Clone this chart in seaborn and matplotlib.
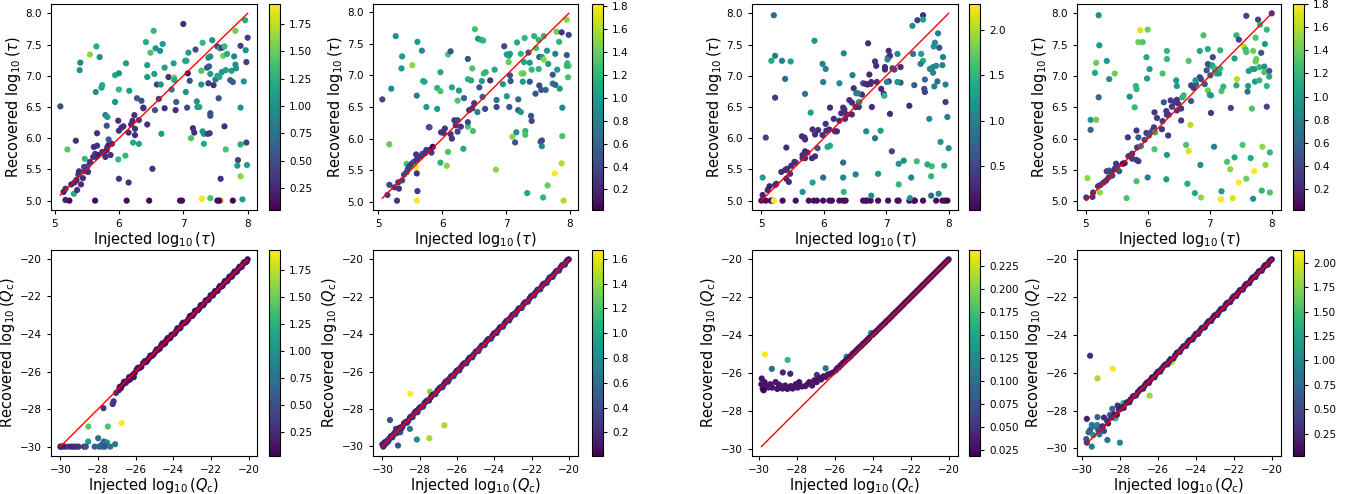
import numpy as np
import pandas as pd
import seaborn as sns
import matplotlib
matplotlib.use("Agg")
import matplotlib.pyplot as plt
from matplotlib.colors import Normalize

# (injected, recovered, colour value), one list per panel
tau_a = [
    (5.09, 6.51, 0.5), (5.20, 5.82, 1.45), (5.55, 7.34, 1.6), (5.65, 7.47, 1.2), (5.40, 7.21, 0.9),
    (5.39, 7.09, 1.0), (5.70, 7.30, 1.0), (5.64, 6.74, 1.0), (5.73, 6.81, 1.1), (5.74, 6.85, 1.2),
    (5.94, 7.01, 1.2), (6.00, 7.04, 1.0), (6.11, 7.20, 1.1), (6.00, 6.78, 1.3), (5.94, 6.58, 1.0),
    (6.16, 6.76, 1.1), (5.79, 6.37, 0.8), (5.82, 6.34, 1.1), (5.81, 6.20, 0.5), (6.28, 6.64, 0.6),
    (6.38, 6.49, 0.5), (6.35, 6.60, 0.5), (6.42, 7.54, 1.2), (6.49, 7.37, 1.4), (6.54, 7.72, 1.3),
    (6.44, 7.17, 1.1), (6.44, 6.98, 1.1), (6.55, 7.03, 1.1), (6.57, 7.44, 1.0), (6.64, 7.40, 1.0),
    (6.68, 7.51, 1.1), (6.71, 7.13, 1.1), (6.59, 6.86, 0.4), (6.65, 6.86, 1.0), (6.62, 6.63, 0.4),
    (6.56, 6.45, 0.5), (6.71, 6.48, 0.3), (6.77, 6.98, 0.3), (6.85, 7.20, 1.1), (6.86, 6.97, 1.5),
    (6.86, 6.93, 1.2), (6.82, 6.78, 0.8), (6.89, 6.58, 0.6), (6.88, 6.45, 0.3), (7.00, 7.83, 0.3),
    (7.03, 7.24, 1.1), (7.05, 7.24, 1.2), (7.08, 7.37, 1.1), (7.07, 7.04, 0.2), (7.10, 6.92, 0.5),
    (7.04, 6.74, 1.0), (7.06, 6.49, 0.5), (7.12, 6.00, 1.4), (7.15, 6.16, 0.3), (7.17, 6.09, 0.3),
    (7.19, 7.42, 0.5), (7.21, 6.59, 1.0), (7.22, 6.50, 1.0), (7.25, 6.50, 1.2), (7.30, 7.53, 1.3),
    (7.28, 7.08, 1.4), (7.28, 6.86, 1.0), (7.30, 6.11, 1.1), (7.32, 6.07, 1.0), (7.32, 5.91, 1.2),
    (7.37, 7.13, 0.5), (7.40, 7.15, 0.6), (7.39, 7.29, 1.0), (7.42, 7.31, 1.0), (7.45, 7.57, 1.0),
    (7.39, 6.88, 0.4), (7.42, 7.03, 1.1), (7.38, 6.07, 0.4), (7.41, 6.08, 0.4), (7.42, 6.40, 0.5),
    (7.42, 6.36, 0.5), (7.47, 6.85, 0.3), (7.50, 6.94, 0.8), (7.53, 7.00, 1.2), (7.53, 7.47, 0.4),
    (7.57, 7.44, 1.2), (7.60, 7.45, 0.4), (7.55, 6.64, 0.5), (7.56, 6.98, 1.2), (7.60, 7.06, 1.0),
    (7.62, 7.32, 1.5), (7.68, 7.35, 1.2), (7.64, 7.47, 1.3), (7.58, 5.35, 0.3), (7.64, 6.19, 0.3),
    (7.66, 5.82, 1.4), (7.66, 7.09, 1.1), (7.73, 6.93, 0.6), (7.75, 7.08, 1.1), (7.77, 6.90, 0.6),
    (7.79, 7.31, 0.9), (7.81, 7.72, 1.5), (7.81, 7.18, 1.0), (7.82, 7.12, 1.0), (7.85, 5.65, 0.4),
    (7.84, 5.56, 1.1), (7.89, 7.48, 0.4), (7.89, 6.49, 1.0), (7.89, 5.90, 1.2), (7.89, 5.39, 1.6),
    (7.94, 6.91, 1.0), (7.96, 7.89, 1.2), (7.97, 7.41, 1.0), (7.98, 7.22, 0.4), (8.00, 7.61, 0.4),
    (7.98, 5.93, 0.4), (7.99, 5.57, 1.1), (7.92, 5.02, 1.1), (7.77, 5.00, 0.05), (7.59, 5.00, 1.93),
    (7.56, 5.00, 0.05), (7.53, 5.00, 0.1), (7.42, 5.04, 1.4), (7.29, 5.03, 1.9), (6.98, 5.00, 0.1),
    (6.95, 5.00, 0.1), (6.47, 5.00, 0.1), (6.12, 5.00, 0.1), (5.63, 5.00, 0.1), (5.23, 5.00, 0.1),
    (5.17, 5.01, 0.2), (6.52, 5.51, 0.3), (6.00, 5.35, 0.3), (6.15, 5.29, 0.3), (6.10, 5.72, 1.3),
    (5.99, 5.66, 1.3), (6.22, 5.93, 1.2), (6.31, 5.91, 1.1), (6.66, 6.07, 1.1), (5.30, 5.11, 1.2),
    (5.33, 5.96, 0.3), (5.47, 5.67, 1.3), (5.66, 6.08, 0.3),
    (5.14, 5.14, 0.2), (5.17, 5.19, 0.3), (5.26, 5.26, 0.2), (5.31, 5.29, 0.3), (5.34, 5.33, 0.2),
    (5.37, 5.42, 0.4), (5.38, 5.47, 0.3), (5.35, 5.17, 0.3), (5.41, 5.26, 0.3), (5.44, 5.36, 0.3),
    (5.47, 5.47, 0.4), (5.49, 5.51, 0.3), (5.51, 5.55, 0.5), (5.46, 5.54, 0.4), (5.52, 5.46, 0.3),
    (5.55, 5.62, 0.3), (5.60, 5.70, 0.3), (5.63, 5.75, 0.4), (5.65, 5.70, 0.3), (5.68, 5.73, 0.2),
    (5.61, 5.86, 0.3), (5.66, 5.88, 0.3), (5.74, 5.78, 0.3), (5.77, 5.75, 0.3), (5.79, 5.70, 0.3),
    (5.81, 5.81, 0.2), (5.82, 5.86, 0.3), (5.84, 5.89, 0.2), (5.87, 5.73, 0.3), (5.84, 5.98, 0.6),
    (5.89, 5.91, 0.3), (6.00, 6.12, 0.3), (6.04, 6.17, 0.3), (6.07, 6.19, 0.3), (5.99, 6.28, 0.3),
    (6.15, 6.09, 0.3), (6.19, 6.22, 0.3), (6.21, 6.28, 0.3), (6.24, 6.37, 0.3), (6.25, 6.15, 0.3),
    (6.25, 6.05, 0.3), (6.31, 6.29, 0.4), (6.44, 6.22, 0.3), (6.38, 6.48, 0.3),
]

tau_b = [
    (5.06, 6.62, 0.4), (5.17, 5.91, 1.4), (5.20, 6.79, 0.9), (5.27, 7.62, 0.9), (5.37, 7.30, 1.0),
    (5.36, 7.11, 1.0), (5.53, 7.16, 1.5), (5.61, 7.53, 1.0), (5.68, 7.39, 0.9), (5.70, 6.91, 1.1),
    (5.72, 6.90, 1.1), (5.75, 6.50, 1.0), (5.60, 6.68, 0.8), (5.79, 6.18, 0.3), (5.92, 6.80, 1.2),
    (5.97, 6.75, 1.3), (5.92, 6.47, 1.0), (5.97, 7.05, 1.1), (6.09, 7.33, 1.3), (6.13, 7.38, 0.5),
    (6.15, 6.81, 1.1), (6.26, 6.76, 1.0), (6.24, 6.60, 1.3), (6.34, 6.64, 0.6), (6.40, 7.26, 0.5),
    (6.40, 6.94, 1.2), (6.45, 6.92, 1.1), (6.47, 7.11, 1.3), (6.51, 7.73, 1.3), (6.56, 7.58, 1.0),
    (6.61, 7.56, 1.1), (6.64, 7.55, 1.2), (6.62, 6.91, 1.0), (6.65, 7.03, 1.2), (6.68, 7.05, 1.2),
    (6.82, 7.09, 1.1), (6.58, 6.81, 0.5), (6.55, 6.42, 0.8), (6.67, 6.47, 0.4), (6.63, 6.66, 0.6),
    (6.75, 6.92, 0.3), (6.85, 6.61, 0.7), (6.85, 6.50, 0.4), (6.95, 6.86, 1.0), (6.97, 7.46, 0.4),
    (7.01, 7.33, 1.0), (7.04, 7.31, 1.1), (7.06, 7.34, 1.0), (7.04, 7.21, 1.4), (7.06, 7.00, 0.5),
    (7.07, 6.91, 0.5), (7.01, 6.67, 1.0), (7.05, 6.50, 0.5), (7.10, 6.03, 1.5), (7.14, 5.94, 0.5),
    (7.16, 6.10, 0.9), (7.17, 7.52, 1.1), (7.19, 6.62, 0.6), (7.19, 6.45, 0.5), (7.23, 6.42, 1.0),
    (7.23, 7.34, 1.2), (7.24, 7.03, 1.5), (7.27, 7.03, 1.4), (7.26, 6.90, 1.0), (7.29, 7.59, 1.2),
    (7.28, 7.21, 1.1), (7.30, 6.12, 1.2), (7.30, 6.06, 1.3), (7.33, 5.14, 1.1), (7.35, 7.36, 0.5),
    (7.37, 7.20, 1.0), (7.37, 6.90, 0.5), (7.40, 7.09, 1.2), (7.39, 6.36, 0.5), (7.40, 6.28, 0.4),
    (7.44, 7.62, 1.2), (7.47, 7.43, 1.3), (7.46, 6.71, 0.5), (7.51, 7.56, 1.2), (7.51, 7.10, 1.2),
    (7.52, 7.29, 0.5), (7.56, 7.29, 1.0), (7.52, 6.84, 0.4), (7.55, 6.77, 0.5), (7.54, 5.95, 0.5),
    (7.56, 5.97, 0.4), (7.56, 5.88, 0.9), (7.59, 7.25, 1.5), (7.59, 7.62, 1.2), (7.58, 5.07, 1.2),
    (7.62, 6.77, 0.6), (7.64, 7.39, 1.0), (7.66, 7.18, 1.0), (7.65, 5.26, 1.4), (7.73, 7.01, 0.5),
    (7.73, 6.87, 0.7), (7.77, 6.85, 0.6), (7.79, 7.69, 1.4), (7.77, 7.34, 0.8), (7.76, 5.45, 1.82),
    (7.80, 7.09, 1.0), (7.83, 7.53, 1.2), (7.84, 6.79, 1.0), (7.87, 5.61, 1.6), (7.87, 7.68, 0.3),
    (7.88, 6.49, 0.9), (7.88, 6.04, 1.3), (7.90, 5.02, 1.6), (7.95, 7.88, 1.5), (7.95, 7.32, 0.5),
    (7.96, 7.19, 1.2), (7.98, 7.15, 1.4), (7.95, 7.15, 1.2), (7.97, 6.97, 1.3), (7.98, 7.64, 0.4),
    (5.14, 5.11, 0.3), (5.17, 5.27, 0.4), (5.29, 5.02, 0.3), (5.25, 5.23, 0.3), (5.32, 5.21, 0.3),
    (5.31, 5.31, 0.3), (5.37, 5.34, 0.4), (5.40, 5.43, 0.4), (5.44, 5.47, 0.4), (5.46, 5.52, 0.4),
    (5.44, 5.60, 1.3), (5.48, 5.56, 0.4), (5.52, 5.60, 0.3), (5.55, 5.63, 0.4), (5.60, 5.67, 0.3),
    (5.59, 5.75, 0.3), (5.59, 5.55, 1.82), (5.60, 5.45, 0.3), (5.61, 5.17, 0.3), (5.60, 5.02, 1.8),
    (5.66, 5.72, 0.3), (5.69, 5.76, 0.4), (5.73, 5.77, 0.3), (5.75, 5.82, 0.3), (5.80, 5.82, 0.3),
    (5.83, 5.78, 0.3), (5.85, 5.87, 0.02), (5.80, 6.18, 0.5), (5.97, 5.62, 1.2), (6.07, 5.57, 1.5),
    (6.09, 5.79, 1.3), (5.98, 6.10, 0.3), (6.04, 6.16, 0.3), (6.02, 6.09, 0.3), (6.13, 6.07, 0.3),
    (6.15, 6.00, 0.3), (6.19, 6.29, 0.3), (6.21, 6.21, 0.3), (6.24, 6.29, 0.4), (6.24, 6.11, 0.4),
    (6.29, 6.19, 0.3), (6.33, 5.84, 1.1), (6.40, 6.19, 1.3), (6.40, 6.26, 0.4), (6.42, 6.45, 0.3),
    (6.47, 6.48, 0.3), (6.48, 6.12, 1.3), (6.50, 6.56, 0.3), (6.84, 5.51, 1.5),
]

tau_c = [
    (5.02, 5.09, 0.2), (5.02, 5.37, 1.3), (5.07, 6.01, 0.5), (5.00, 5.00, 0.1),
    (5.07, 5.00, 0.1), (5.15, 5.00, 0.1), (5.18, 5.00, 0.1), (5.20, 5.00, 2.28), (5.34, 5.00, 0.1),
    (5.55, 5.00, 0.1), (5.76, 5.00, 0.1), (5.84, 5.00, 0.1), (5.89, 5.00, 0.1), (5.99, 5.00, 0.1),
    (6.09, 5.00, 0.1), (6.13, 5.00, 0.1), (6.25, 5.00, 0.1), (6.31, 5.00, 0.1), (6.35, 5.00, 0.1),
    (6.63, 5.00, 0.1), (6.67, 5.00, 0.1), (6.69, 5.00, 0.1), (6.75, 5.00, 0.1), (6.87, 5.00, 0.1),
    (7.03, 5.00, 0.1), (7.18, 5.00, 0.1), (7.20, 5.00, 0.1), (7.37, 5.00, 0.1), (7.44, 5.00, 0.1),
    (7.46, 5.00, 0.1), (7.59, 5.00, 0.1), (7.80, 5.00, 0.1), (7.90, 5.00, 0.1), (7.94, 5.00, 0.1),
    (7.98, 5.00, 0.02),
    (5.10, 5.17, 0.3), (5.13, 5.23, 0.2), (5.22, 5.25, 0.3), (5.24, 5.27, 0.3), (5.32, 5.46, 0.3),
    (5.38, 5.49, 0.3), (5.41, 5.51, 0.3), (5.46, 5.43, 0.3), (5.40, 5.35, 0.3), (5.44, 5.30, 0.3),
    (5.48, 5.56, 0.3), (5.53, 5.62, 0.3), (5.55, 5.61, 0.3), (5.40, 5.85, 0.3), (5.66, 5.73, 0.3),
    (5.70, 5.68, 0.3), (5.66, 5.68, 0.3), (5.74, 5.77, 0.3), (5.70, 5.79, 0.3), (5.65, 6.03, 0.3),
    (5.69, 6.01, 0.3), (5.70, 5.98, 0.3), (5.81, 5.68, 0.3), (5.86, 5.71, 0.3), (5.82, 6.14, 0.3),
    (5.86, 6.06, 0.3), (5.91, 6.13, 0.3), (5.90, 5.84, 0.6), (5.98, 6.05, 0.3), (6.04, 6.12, 0.3),
    (6.03, 6.23, 0.3), (6.09, 6.14, 0.3), (6.10, 6.49, 0.3), (6.16, 6.31, 0.3), (6.18, 6.11, 0.3),
    (6.21, 6.11, 0.3), (6.25, 6.28, 0.3), (6.28, 6.40, 0.3), (6.31, 6.49, 0.3), (6.33, 6.46, 0.3),
    (6.34, 6.31, 0.3), (6.37, 6.38, 0.3), (6.41, 6.61, 0.3), (6.45, 6.57, 0.3), (6.45, 6.38, 0.3),
    (6.51, 6.50, 0.3), (6.48, 6.80, 0.3), (6.56, 6.57, 0.3), (6.56, 6.50, 0.3), (6.57, 6.58, 1.3),
    (6.61, 6.70, 0.3), (6.63, 6.88, 0.6), (6.67, 6.87, 0.3), (6.70, 6.86, 0.3), (6.73, 7.02, 0.3),
    (6.75, 6.87, 0.3), (6.76, 6.90, 0.3), (6.77, 6.50, 0.3), (6.82, 7.23, 0.4), (6.84, 7.16, 0.3),
    (6.85, 6.90, 0.3), (6.82, 6.00, 0.9), (6.92, 6.79, 0.3), (6.96, 6.71, 0.3), (6.98, 7.14, 0.3),
    (6.98, 7.10, 0.3), (7.03, 7.29, 0.4), (7.04, 7.40, 0.3), (7.06, 7.32, 0.3), (7.06, 6.39, 0.3),
    (7.04, 6.91, 0.3), (7.09, 5.79, 0.5), (7.10, 7.12, 0.5), (7.13, 7.10, 0.5), (7.23, 7.14, 0.3),
    (7.37, 6.52, 0.3), (7.23, 6.89, 0.6), (6.71, 7.52, 0.3),
    (5.20, 7.97, 0.8), (5.22, 7.32, 1.0), (5.16, 7.24, 1.4), (5.33, 7.24, 1.0), (5.47, 7.23, 1.3),
    (5.22, 6.65, 0.4), (5.38, 6.95, 0.8), (5.70, 6.71, 0.9), (5.85, 7.56, 1.2), (5.98, 7.19, 1.0),
    (6.03, 7.11, 1.0), (5.99, 6.90, 1.0), (5.79, 6.41, 1.3), (6.06, 5.86, 1.4), (6.10, 5.88, 1.4),
    (6.25, 6.88, 1.1), (6.32, 7.36, 1.1), (6.46, 7.01, 1.0), (6.52, 6.72, 1.0), (6.55, 6.72, 1.0),
    (6.68, 6.11, 1.1), (6.91, 6.12, 1.3), (6.97, 6.68, 1.5), (7.01, 6.90, 1.1), (7.02, 7.26, 1.1),
    (7.18, 7.35, 1.1), (7.18, 6.90, 1.2), (7.43, 7.35, 0.9), (7.42, 7.80, 1.1), (7.50, 7.89, 0.4),
    (7.59, 7.97, 0.3), (7.59, 7.90, 1.3), (7.56, 7.35, 1.3), (7.59, 7.24, 1.4), (7.55, 7.19, 1.0),
    (7.45, 6.85, 0.7), (7.62, 6.94, 0.8), (7.61, 6.79, 0.5), (7.62, 6.74, 0.5), (7.69, 6.31, 1.1),
    (7.70, 7.11, 1.1), (7.75, 7.14, 1.1), (7.75, 7.05, 1.0), (7.76, 7.47, 1.2), (7.78, 7.53, 1.1),
    (7.77, 6.83, 1.0), (7.80, 7.16, 1.1), (7.82, 6.91, 0.8), (7.83, 7.68, 1.0), (7.85, 7.45, 0.6),
    (7.87, 5.94, 1.2), (7.90, 7.17, 1.0), (7.91, 7.30, 1.0), (7.95, 6.86, 1.0), (7.95, 6.58, 0.4),
    (7.98, 6.34, 1.0), (8.00, 5.84, 1.1), (7.93, 5.56, 1.4), (7.72, 5.39, 1.5), (7.73, 5.55, 1.6),
    (7.66, 5.58, 1.4), (7.72, 5.08, 0.8), (7.84, 5.11, 1.1), (7.49, 5.63, 1.6), (7.40, 5.37, 1.0),
    (7.28, 5.64, 1.1), (7.20, 5.59, 1.2), (7.20, 5.26, 1.5), (7.38, 5.04, 1.2), (6.87, 5.43, 1.2),
    (6.76, 5.08, 1.1), (6.51, 5.42, 1.0), (6.31, 5.61, 0.8), (6.31, 5.37, 1.1), (6.32, 5.14, 1.5),
    (5.99, 5.37, 0.8), (5.82, 5.29, 1.3), (5.66, 5.14, 1.2),
]

tau_d = [
    (5.01, 5.06, 0.3), (5.03, 5.37, 1.5), (5.08, 6.14, 0.6), (5.08, 6.30, 1.0), (5.12, 5.14, 0.3),
    (5.11, 5.07, 0.3), (5.15, 7.05, 1.1), (5.17, 7.21, 1.4), (5.17, 6.30, 1.4), (5.21, 7.97, 0.9),
    (5.22, 7.49, 1.0), (5.21, 6.66, 0.6), (5.23, 5.14, 1.5), (5.24, 5.26, 0.3), (5.20, 5.24, 0.3),
    (5.34, 7.24, 1.0), (5.38, 6.95, 0.9), (5.47, 7.04, 1.4), (5.34, 5.48, 0.3), (5.38, 5.49, 0.5),
    (5.41, 5.46, 0.3), (5.37, 5.38, 0.3), (5.43, 5.41, 0.4), (5.47, 5.52, 0.3), (5.51, 5.57, 0.4),
    (5.54, 5.48, 0.5), (5.49, 5.60, 0.3), (5.33, 5.33, 0.3), (5.29, 5.30, 0.3), (5.66, 5.05, 1.3),
    (5.63, 5.61, 0.3), (5.68, 6.02, 0.3), (5.69, 5.72, 0.3), (5.72, 5.73, 0.3), (5.75, 5.76, 0.3),
    (5.75, 5.68, 0.3), (5.82, 5.66, 0.3), (5.85, 5.64, 0.3), (5.83, 5.86, 0.3), (5.82, 6.13, 0.3),
    (5.85, 6.02, 0.5), (5.89, 5.88, 0.8), (5.95, 5.98, 0.4), (5.98, 6.09, 0.3), (6.02, 6.05, 0.5),
    (6.07, 6.12, 0.4), (6.10, 6.18, 0.3), (6.11, 6.42, 0.3), (6.15, 6.33, 0.3), (6.12, 6.10, 1.2),
    (6.11, 5.83, 1.3), (6.23, 6.15, 0.3), (6.24, 6.28, 0.3), (6.26, 6.58, 0.5), (6.30, 6.44, 0.3),
    (6.31, 6.38, 0.3), (6.34, 6.38, 0.3), (6.33, 6.05, 0.3), (6.37, 6.61, 0.3), (6.39, 6.51, 0.3),
    (6.44, 6.58, 0.3), (6.47, 6.62, 0.3), (6.47, 6.45, 0.3), (6.49, 6.56, 0.3), (6.54, 6.48, 0.3),
    (6.54, 6.29, 0.3), (6.56, 6.66, 1.1), (6.58, 6.69, 1.2), (6.70, 6.60, 0.5), (6.70, 6.85, 0.4),
    (6.74, 6.81, 0.3), (6.78, 6.87, 0.5), (6.84, 6.98, 0.4), (6.86, 6.95, 0.4), (6.92, 6.87, 0.5),
    (6.95, 7.09, 0.5), (6.97, 7.19, 0.5), (7.01, 7.17, 0.4), (7.01, 7.01, 0.5), (7.05, 7.30, 0.4),
    (7.09, 7.08, 0.5), (7.02, 6.41, 0.3), (5.60, 5.60, 0.02),
    (5.81, 6.84, 1.2), (5.79, 6.50, 1.2), (5.71, 6.67, 0.9), (5.82, 6.79, 1.2), (5.82, 5.32, 1.3),
    (5.88, 7.73, 1.7), (5.85, 7.54, 1.4), (5.92, 7.54, 1.3), (5.98, 7.30, 1.1), (5.99, 6.96, 1.0),
    (6.03, 7.11, 1.0), (6.00, 7.74, 1.4), (6.00, 5.38, 0.8), (6.24, 7.04, 1.3), (6.31, 7.40, 1.2),
    (6.31, 7.27, 1.2), (6.31, 5.74, 1.0), (6.30, 5.35, 1.0), (6.46, 6.93, 1.0), (6.47, 6.84, 1.0),
    (6.64, 5.28, 1.1), (6.62, 5.90, 1.3), (6.66, 5.80, 1.7), (6.66, 7.24, 1.3), (6.69, 6.22, 1.6),
    (6.77, 6.93, 1.0), (6.76, 5.13, 1.1), (6.84, 7.40, 1.1), (6.85, 5.58, 0.9), (6.86, 5.06, 1.5),
    (6.90, 7.65, 1.3), (6.97, 7.43, 1.1), (6.97, 6.77, 1.4), (7.00, 6.70, 1.1), (7.02, 6.69, 1.0),
    (7.04, 7.17, 1.0), (7.07, 7.13, 1.2), (7.11, 7.04, 1.1), (7.07, 5.87, 0.8), (7.15, 7.04, 1.0),
    (7.17, 7.41, 1.2), (7.17, 7.12, 1.2), (7.19, 6.76, 1.3), (7.22, 6.83, 1.2), (7.19, 5.16, 1.0),
    (7.18, 5.03, 1.8), (7.28, 5.63, 1.3), (7.33, 5.51, 1.5), (7.34, 6.49, 0.4), (7.37, 5.05, 1.7),
    (7.40, 5.70, 1.1), (7.40, 7.28, 1.0), (7.43, 7.65, 1.2), (7.43, 6.85, 1.1), (7.44, 6.95, 1.6),
    (7.47, 7.58, 0.4), (7.47, 5.30, 1.8), (7.53, 5.90, 1.3), (7.55, 7.47, 1.6), (7.58, 7.42, 1.2),
    (7.59, 7.38, 1.3), (7.59, 7.96, 0.4), (7.59, 5.36, 1.4), (7.62, 6.84, 1.0), (7.61, 6.75, 0.7),
    (7.63, 7.08, 1.0), (7.66, 5.69, 1.1), (7.68, 6.48, 1.3), (7.68, 7.11, 1.1), (7.70, 7.40, 1.4),
    (7.70, 5.04, 0.9), (7.73, 6.91, 1.0), (7.72, 7.11, 1.0), (7.74, 7.23, 1.4), (7.75, 7.27, 1.4),
    (7.74, 7.61, 1.3), (7.72, 5.48, 1.8), (7.78, 7.90, 0.4), (7.80, 7.14, 1.2), (7.80, 6.93, 1.2),
    (7.81, 7.82, 1.2), (7.83, 7.37, 0.5), (7.84, 5.17, 1.2), (7.85, 5.87, 1.5), (7.88, 7.15, 0.9),
    (7.88, 7.06, 1.3), (7.89, 7.51, 1.0), (7.90, 5.58, 1.5), (7.92, 7.74, 1.2), (7.92, 6.84, 1.2),
    (7.92, 6.51, 0.4), (7.96, 7.08, 0.5), (7.96, 6.99, 1.1), (7.97, 5.78, 1.2), (7.97, 5.14, 1.3),
    (8.00, 8.00, 0.3),
]

qc_a = [
    (-27.04, -27.14, 0.3), (-27.17, -27.59, 0.3), (-27.22, -27.73, 0.3), (-27.71, -27.95, 0.3),
    (-28.51, -28.93, 1.45), (-27.48, -28.93, 1.4), (-26.74, -28.75, 1.93), (-28.52, -29.73, 1.1),
    (-27.99, -29.55, 0.7), (-27.69, -29.73, 0.6), (-27.52, -29.78, 1.0), (-27.09, -29.87, 0.8),
    (-27.35, -30.00, 0.8), (-27.80, -29.90, 0.6), (-27.65, -29.85, 0.7),
    (-30.00, -30.00, 0.15), (-29.95, -30.00, 0.2), (-29.77, -30.00, 0.3), (-29.60, -30.00, 0.4),
    (-29.43, -30.00, 0.2), (-29.17, -30.00, 0.2), (-29.03, -30.00, 0.3), (-28.73, -30.00, 0.2),
    (-28.65, -30.00, 0.5), (-28.18, -30.00, 0.6), (-27.95, -30.00, 0.7), (-27.78, -30.00, 0.6),
    (-27.64, -30.00, 0.5), (-29.85, -29.98, 0.2), (-29.30, -30.00, 0.25),
    (-26.85, -26.82, 0.15), (-26.70, -26.72, 0.1), (-26.62, -26.55, 0.12), (-26.45, -26.50, 0.1),
    (-26.35, -26.30, 0.15), (-26.30, -26.42, 0.1), (-26.18, -26.20, 0.12), (-26.05, -26.08, 0.1),
    (-25.95, -25.90, 0.15), (-25.80, -25.82, 0.1), (-25.60, -25.55, 0.12), (-25.45, -25.50, 0.1),
    (-25.30, -25.30, 0.15), (-25.15, -25.18, 0.1), (-24.95, -24.95, 0.12), (-24.82, -24.85, 0.1),
    (-24.65, -24.62, 0.15), (-24.50, -24.55, 0.1), (-24.38, -24.35, 0.12), (-24.22, -24.25, 0.1),
    (-24.10, -24.05, 0.15), (-24.00, -24.02, 0.1), (-23.85, -23.85, 0.12), (-23.70, -23.72, 0.1),
    (-23.55, -23.50, 0.15), (-23.40, -23.42, 0.1), (-23.20, -23.22, 0.12), (-23.05, -23.02, 0.1),
    (-22.90, -22.92, 0.15), (-22.78, -22.75, 0.1), (-22.62, -22.65, 0.12), (-22.48, -22.45, 0.1),
    (-22.35, -22.38, 0.15), (-22.22, -22.20, 0.1), (-22.10, -22.12, 0.12), (-21.95, -21.92, 0.1),
    (-21.85, -21.85, 0.15), (-21.70, -21.72, 0.1), (-21.58, -21.55, 0.12), (-21.45, -21.48, 0.1),
    (-21.32, -21.30, 0.15), (-21.20, -21.22, 0.1), (-21.05, -21.02, 0.12), (-20.95, -20.98, 0.1),
    (-20.82, -20.80, 0.15), (-20.70, -20.72, 0.1), (-20.55, -20.55, 0.12), (-20.42, -20.45, 0.1),
    (-20.30, -20.28, 0.15), (-20.18, -20.20, 0.1), (-20.05, -20.03, 0.03), (-26.10, -26.30, 0.1),
    (-26.35, -26.45, 0.1), (-26.90, -27.00, 0.2),
]
qc_a_band = [
    (-26.78, -26.88, 0.1), (-26.52, -26.60, 0.12), (-26.25, -26.32, 0.1), (-25.88, -25.80, 0.12),
    (-25.70, -25.75, 0.1), (-25.52, -25.45, 0.15), (-25.38, -25.42, 0.1), (-25.22, -25.15, 0.12),
    (-25.05, -25.10, 0.1), (-24.88, -24.82, 0.12), (-24.72, -24.78, 0.1), (-24.58, -24.50, 0.15),
    (-24.42, -24.48, 0.1), (-24.30, -24.22, 0.12), (-24.15, -24.20, 0.1), (-23.92, -23.98, 0.12),
    (-23.78, -23.70, 0.1), (-23.62, -23.68, 0.15), (-23.48, -23.40, 0.1), (-23.30, -23.35, 0.12),
    (-23.12, -23.05, 0.1), (-22.98, -23.04, 0.12), (-22.85, -22.78, 0.1), (-22.70, -22.75, 0.15),
    (-22.55, -22.48, 0.1), (-22.42, -22.48, 0.12), (-22.28, -22.22, 0.1), (-22.15, -22.20, 0.12),
    (-22.02, -21.95, 0.1), (-21.90, -21.96, 0.15), (-21.78, -21.72, 0.1), (-21.64, -21.70, 0.12),
    (-21.52, -21.45, 0.1), (-21.38, -21.44, 0.12), (-21.25, -21.18, 0.1), (-21.12, -21.18, 0.15),
    (-21.00, -20.94, 0.1), (-20.88, -20.94, 0.12), (-20.75, -20.68, 0.1), (-20.62, -20.68, 0.12),
    (-20.48, -20.42, 0.1), (-20.36, -20.42, 0.15), (-20.24, -20.18, 0.1), (-20.10, -20.15, 0.12),
]

qc_b = [
    (-28.50, -27.19, 1.67), (-27.45, -27.07, 1.4), (-29.59, -28.60, 0.45), (-28.52, -29.07, 0.7),
    (-29.04, -29.25, 0.4), (-29.27, -29.07, 0.3), (-26.68, -28.88, 1.45), (-28.15, -29.64, 0.8),
    (-27.48, -29.57, 1.45), (-29.16, -29.96, 0.45),
    (-30.00, -29.90, 0.15), (-29.95, -30.02, 0.2), (-29.88, -29.80, 0.15), (-29.80, -29.85, 0.2),
    (-29.72, -29.68, 0.15), (-29.62, -29.60, 0.2), (-29.52, -29.45, 0.15), (-29.42, -29.40, 0.2),
    (-29.30, -29.28, 0.15), (-29.18, -29.12, 0.2), (-29.05, -29.00, 0.15), (-28.92, -28.95, 0.2),
    (-28.75, -28.70, 0.15), (-28.60, -28.62, 0.2), (-28.45, -28.40, 0.15), (-28.20, -28.12, 0.2),
    (-28.05, -28.00, 0.15), (-27.90, -27.88, 0.2), (-27.75, -27.70, 0.15), (-27.60, -27.55, 0.2),
    (-27.40, -27.38, 0.15), (-27.25, -27.22, 0.2), (-27.05, -27.02, 0.15), (-26.85, -26.82, 0.2),
    (-26.70, -26.68, 0.15), (-26.55, -26.50, 0.2), (-26.40, -26.38, 0.15), (-26.25, -26.22, 0.2),
    (-26.10, -26.08, 0.15), (-25.95, -25.92, 0.2), (-25.80, -25.78, 0.15), (-25.60, -25.55, 0.2),
    (-25.42, -25.40, 0.15), (-25.25, -25.22, 0.2), (-25.10, -25.08, 0.15), (-24.92, -24.90, 0.2),
    (-24.78, -24.75, 0.15), (-24.60, -24.58, 0.2), (-24.45, -24.42, 0.15), (-24.28, -24.25, 0.2),
    (-24.10, -24.08, 0.15), (-23.95, -23.92, 0.2), (-23.80, -23.78, 0.15), (-23.62, -23.60, 0.2),
    (-23.45, -23.42, 0.15), (-23.28, -23.25, 0.2), (-23.12, -23.10, 0.15), (-22.95, -22.92, 0.2),
    (-22.80, -22.78, 0.15), (-22.62, -22.60, 0.2), (-22.45, -22.42, 0.15), (-22.30, -22.28, 0.2),
    (-22.12, -22.10, 0.15), (-21.95, -21.92, 0.2), (-21.80, -21.78, 0.15), (-21.62, -21.60, 0.2),
    (-21.45, -21.42, 0.15), (-21.30, -21.28, 0.2), (-21.12, -21.10, 0.15), (-20.95, -20.92, 0.2),
    (-20.80, -20.78, 0.15), (-20.62, -20.60, 0.2), (-20.45, -20.42, 0.15), (-20.30, -20.28, 0.2),
    (-20.15, -20.12, 0.15), (-20.02, -20.00, 0.01),
]
qc_b_band = [
    (-29.92, -29.97, 0.2), (-29.84, -29.78, 0.15), (-29.68, -29.74, 0.2), (-29.56, -29.50, 0.15),
    (-29.46, -29.52, 0.2), (-29.36, -29.30, 0.15), (-29.24, -29.30, 0.2), (-29.10, -29.04, 0.15),
    (-28.98, -29.05, 0.2), (-28.84, -28.78, 0.15), (-28.68, -28.74, 0.2), (-28.52, -28.46, 0.15),
    (-28.38, -28.44, 0.2), (-28.28, -28.22, 0.15), (-28.12, -28.18, 0.2), (-27.98, -27.92, 0.15),
    (-27.82, -27.88, 0.2), (-27.68, -27.62, 0.15), (-27.50, -27.56, 0.2), (-27.32, -27.26, 0.15),
    (-27.15, -27.20, 0.2), (-26.95, -26.90, 0.15), (-26.78, -26.84, 0.2), (-26.62, -26.56, 0.15),
    (-26.48, -26.54, 0.2), (-26.32, -26.26, 0.15), (-26.18, -26.24, 0.2), (-26.02, -25.96, 0.15),
    (-25.88, -25.94, 0.2), (-25.70, -25.64, 0.15), (-25.50, -25.56, 0.2), (-25.34, -25.28, 0.15),
    (-25.18, -25.24, 0.2), (-25.00, -24.94, 0.15), (-24.85, -24.90, 0.2), (-24.68, -24.62, 0.15),
    (-24.52, -24.58, 0.2), (-24.36, -24.30, 0.15), (-24.18, -24.24, 0.2), (-24.02, -23.96, 0.15),
    (-23.88, -23.94, 0.2), (-23.70, -23.64, 0.15), (-23.54, -23.60, 0.2), (-23.36, -23.30, 0.15),
    (-23.20, -23.26, 0.2), (-23.04, -22.98, 0.15), (-22.88, -22.94, 0.2), (-22.70, -22.64, 0.15),
    (-22.54, -22.60, 0.2), (-22.38, -22.32, 0.15), (-22.20, -22.26, 0.2), (-22.04, -21.98, 0.15),
    (-21.88, -21.94, 0.2), (-21.70, -21.64, 0.15), (-21.54, -21.60, 0.2), (-21.38, -21.32, 0.15),
    (-21.20, -21.26, 0.2), (-21.04, -20.98, 0.15), (-20.88, -20.94, 0.2), (-20.70, -20.64, 0.15),
    (-20.54, -20.60, 0.2), (-20.38, -20.32, 0.15), (-20.22, -20.28, 0.2), (-20.08, -20.04, 0.15),
]

qc_c = [
    (-29.68, -25.01, 0.242), (-28.49, -25.30, 0.17), (-29.32, -25.77, 0.1), (-28.74, -25.96, 0.04),
    (-28.35, -26.03, 0.04), (-26.49, -25.74, 0.1), (-26.95, -26.09, 0.05),
    (-29.85, -26.28, 0.03), (-29.87, -26.58, 0.03), (-29.80, -26.83, 0.03), (-29.70, -26.47, 0.03),
    (-29.57, -26.68, 0.03), (-29.40, -26.58, 0.03), (-29.30, -26.76, 0.03), (-29.12, -26.47, 0.03),
    (-29.03, -26.83, 0.03), (-28.85, -26.68, 0.03), (-28.76, -26.81, 0.03), (-28.62, -26.65, 0.03),
    (-28.50, -26.83, 0.03), (-28.32, -26.68, 0.03), (-28.23, -26.81, 0.03), (-28.06, -26.58, 0.03),
    (-27.97, -26.76, 0.03), (-27.88, -26.47, 0.03), (-27.74, -26.70, 0.03), (-27.56, -26.68, 0.03),
    (-27.44, -26.58, 0.03), (-27.35, -26.47, 0.03), (-27.20, -26.65, 0.03), (-27.08, -26.37, 0.03),
    (-26.96, -26.47, 0.03), (-26.82, -26.25, 0.03), (-26.73, -26.33, 0.03), (-26.60, -26.16, 0.03),
    (-26.50, -26.20, 0.03), (-26.37, -26.07, 0.03), (-26.25, -26.03, 0.03), (-26.10, -25.96, 0.03),
    (-29.75, -26.90, 0.018), (-29.50, -26.75, 0.03), (-28.95, -26.60, 0.03), (-28.10, -26.72, 0.03),
    (-25.39, -25.13, 0.12), (-24.10, -23.88, 0.13),
    (-25.95, -25.85, 0.03), (-25.80, -25.70, 0.03), (-25.65, -25.55, 0.04), (-25.50, -25.40, 0.03),
    (-25.30, -25.22, 0.03), (-25.15, -25.08, 0.04), (-25.00, -24.93, 0.03), (-24.85, -24.78, 0.03),
    (-24.70, -24.63, 0.04), (-24.55, -24.48, 0.03), (-24.40, -24.35, 0.03), (-24.25, -24.20, 0.04),
    (-23.95, -23.90, 0.03), (-23.80, -23.76, 0.03), (-23.62, -23.58, 0.04), (-23.45, -23.42, 0.03),
    (-23.30, -23.26, 0.03), (-23.12, -23.10, 0.04), (-22.95, -22.92, 0.03), (-22.80, -22.77, 0.03),
    (-22.62, -22.60, 0.04), (-22.45, -22.43, 0.03), (-22.30, -22.27, 0.03), (-22.12, -22.10, 0.04),
    (-21.95, -21.93, 0.03), (-21.80, -21.78, 0.03), (-21.62, -21.60, 0.04), (-21.45, -21.43, 0.03),
    (-21.30, -21.28, 0.03), (-21.12, -21.10, 0.04), (-20.95, -20.93, 0.03), (-20.80, -20.78, 0.03),
    (-20.62, -20.60, 0.04), (-20.45, -20.43, 0.03), (-20.30, -20.28, 0.03), (-20.15, -20.13, 0.04),
    (-20.02, -20.00, 0.03),
]
qc_c_band = [
    (-25.88, -25.74, 0.03), (-25.72, -25.60, 0.03), (-25.58, -25.46, 0.03), (-25.42, -25.32, 0.03),
    (-25.22, -25.14, 0.03), (-25.08, -24.98, 0.03), (-24.92, -24.84, 0.03), (-24.78, -24.70, 0.03),
    (-24.62, -24.56, 0.03), (-24.48, -24.42, 0.03), (-24.32, -24.26, 0.03), (-24.18, -24.12, 0.03),
    (-24.02, -23.98, 0.03), (-23.88, -23.84, 0.03), (-23.70, -23.66, 0.03), (-23.54, -23.50, 0.03),
    (-23.36, -23.34, 0.03), (-23.20, -23.18, 0.03), (-23.04, -23.02, 0.03), (-22.88, -22.86, 0.03),
    (-22.70, -22.68, 0.03), (-22.54, -22.52, 0.03), (-22.38, -22.36, 0.03), (-22.20, -22.18, 0.03),
    (-22.04, -22.02, 0.03), (-21.88, -21.86, 0.03), (-21.70, -21.68, 0.03), (-21.54, -21.52, 0.03),
    (-21.38, -21.36, 0.03), (-21.20, -21.18, 0.03), (-21.04, -21.02, 0.03), (-20.88, -20.86, 0.03),
    (-20.70, -20.68, 0.03), (-20.54, -20.52, 0.03), (-20.38, -20.36, 0.03), (-20.22, -20.20, 0.03),
    (-20.08, -20.06, 0.03),
]

qc_d = [
    (-29.57, -25.10, 0.3), (-28.38, -25.79, 2.13), (-29.18, -26.30, 1.85), (-26.44, -27.21, 1.8),
    (-25.27, -25.45, 1.9), (-29.74, -28.44, 0.2), (-29.18, -28.35, 0.7), (-28.40, -27.91, 0.7),
    (-28.12, -27.74, 0.3), (-27.82, -27.61, 1.4), (-28.23, -28.41, 1.4), (-28.84, -28.37, 0.3),
    (-28.67, -28.55, 0.3), (-28.52, -28.23, 0.6), (-29.48, -28.76, 0.9), (-29.31, -28.85, 0.8),
    (-29.20, -28.76, 1.0), (-28.96, -28.85, 0.5), (-29.57, -29.03, 0.6), (-29.65, -29.15, 0.7),
    (-29.08, -29.26, 0.8), (-29.40, -29.30, 1.0), (-28.84, -29.08, 0.5), (-29.77, -29.51, 0.6),
    (-29.48, -29.91, 0.9), (-28.66, -29.56, 0.8), (-28.00, -29.70, 1.0), (-29.74, -29.70, 0.4),
    (-29.13, -29.05, 0.5),
    (-28.30, -28.20, 0.15), (-28.05, -27.95, 0.2), (-27.85, -27.80, 0.15), (-27.65, -27.60, 0.2),
    (-27.45, -27.42, 0.15), (-27.25, -27.22, 0.2), (-27.05, -27.02, 0.15), (-26.85, -26.82, 0.2),
    (-26.70, -26.68, 0.15), (-26.55, -26.50, 0.2), (-26.40, -26.38, 0.15), (-26.25, -26.22, 0.2),
    (-26.10, -26.08, 0.15), (-25.95, -25.92, 0.2), (-25.80, -25.78, 0.15), (-25.60, -25.55, 0.2),
    (-25.42, -25.40, 0.15), (-25.10, -25.08, 0.15), (-24.92, -24.90, 0.2), (-24.78, -24.75, 0.15),
    (-24.60, -24.58, 0.2), (-24.45, -24.42, 0.15), (-24.28, -24.25, 0.2), (-24.10, -24.08, 0.15),
    (-23.95, -23.92, 0.2), (-23.80, -23.78, 0.15), (-23.62, -23.60, 0.2), (-23.45, -23.42, 0.15),
    (-23.28, -23.25, 0.2), (-23.12, -23.10, 0.15), (-22.95, -22.92, 0.2), (-22.80, -22.78, 0.15),
    (-22.62, -22.60, 0.2), (-22.45, -22.42, 0.15), (-22.30, -22.28, 0.2), (-22.12, -22.10, 0.15),
    (-21.95, -21.92, 0.2), (-21.80, -21.78, 0.15), (-21.62, -21.60, 0.2), (-21.45, -21.42, 0.15),
    (-21.30, -21.28, 0.2), (-21.12, -21.10, 0.15), (-20.95, -20.92, 0.2), (-20.80, -20.78, 0.15),
    (-20.62, -20.60, 0.2), (-20.45, -20.42, 0.15), (-20.30, -20.28, 0.2), (-20.15, -20.12, 0.15),
    (-20.02, -20.00, 0.02),
]
qc_d_band = [
    (-28.90, -28.84, 0.3), (-28.62, -28.68, 0.25), (-28.45, -28.38, 0.3), (-28.16, -28.22, 0.15),
    (-27.98, -27.92, 0.2), (-27.80, -27.86, 0.15), (-27.62, -27.56, 0.2), (-27.50, -27.56, 0.15),
    (-27.32, -27.26, 0.15), (-27.15, -27.20, 0.2), (-26.95, -26.90, 0.15), (-26.78, -26.84, 0.2),
    (-26.62, -26.56, 0.15), (-26.48, -26.54, 0.2), (-26.32, -26.26, 0.15), (-26.18, -26.24, 0.2),
    (-26.02, -25.96, 0.15), (-25.88, -25.94, 0.2), (-25.70, -25.64, 0.15), (-25.50, -25.56, 0.2),
    (-25.34, -25.28, 0.15), (-25.18, -25.24, 0.2), (-25.00, -24.94, 0.15), (-24.85, -24.90, 0.2),
    (-24.68, -24.62, 0.15), (-24.52, -24.58, 0.2), (-24.36, -24.30, 0.15), (-24.18, -24.24, 0.2),
    (-24.02, -23.96, 0.15), (-23.88, -23.94, 0.2), (-23.70, -23.64, 0.15), (-23.54, -23.60, 0.2),
    (-23.36, -23.30, 0.15), (-23.20, -23.26, 0.2), (-23.04, -22.98, 0.15), (-22.88, -22.94, 0.2),
    (-22.70, -22.64, 0.15), (-22.54, -22.60, 0.2), (-22.38, -22.32, 0.15), (-22.20, -22.26, 0.2),
    (-22.04, -21.98, 0.15), (-21.88, -21.94, 0.2), (-21.70, -21.64, 0.15), (-21.54, -21.60, 0.2),
    (-21.38, -21.32, 0.15), (-21.20, -21.26, 0.2), (-21.04, -20.98, 0.15), (-20.88, -20.94, 0.2),
    (-20.70, -20.64, 0.15), (-20.54, -20.60, 0.2), (-20.38, -20.32, 0.15), (-20.22, -20.28, 0.2),
    (-20.08, -20.04, 0.15),
]

top_panels = [tau_a, tau_b, tau_c, tau_d]
bottom_panels = [qc_a + qc_a_band, qc_b + qc_b_band, qc_c + qc_c_band, qc_d + qc_d_band]

tau_xlabel = r"Injected $\log_{10}(\tau)$"
tau_ylabel = r"Recovered $\log_{10}(\tau)$"
qc_xlabel = r"Injected $\log_{10}(Q_\mathrm{c})$"
qc_ylabel = r"Recovered $\log_{10}(Q_\mathrm{c})$"

W, H = 1354, 494
fig = plt.figure(figsize=(W / 100, H / 100), dpi=100)

ax_left = [51, 373, 752, 1077]
ax_width = [206, 205, 206, 204]
cb_left = [269, 592, 969, 1293]
row_top = [4, 250]
row_h = 206


def draw(points, col, row, xlabel, ylabel):
    df = pd.DataFrame(points, columns=["inj", "rec", "c"])
    left = ax_left[col] / W
    bottom = 1 - (row_top[row] + row_h) / H
    ax = fig.add_axes([left, bottom, ax_width[col] / W, row_h / H])
    norm = Normalize(df["c"].min(), df["c"].max())
    sns.scatterplot(data=df, x="inj", y="rec", hue="c", palette="viridis",
                    hue_norm=norm, s=20, linewidth=0, legend=False, ax=ax, zorder=2)
    lo, hi = df["inj"].min(), df["inj"].max()
    ax.plot([lo, hi], [lo, hi], color="red", lw=1, zorder=3)
    ax.set_xlabel(xlabel, fontsize=10.5, labelpad=1)
    ax.set_ylabel(ylabel, fontsize=10.5, labelpad=2)
    ax.tick_params(labelsize=7.5, length=3)
    cax = fig.add_axes([cb_left[col] / W, bottom, 11 / W, row_h / H])
    sm = plt.cm.ScalarMappable(norm=norm, cmap="viridis")
    cb = fig.colorbar(sm, cax=cax)
    cb.ax.tick_params(labelsize=7.5, length=3)
    return ax


for i, pts in enumerate(top_panels):
    draw(pts, i, 0, tau_xlabel, tau_ylabel)
for i, pts in enumerate(bottom_panels):
    draw(pts, i, 1, qc_xlabel, qc_ylabel)

fig.savefig("out.png", dpi=100)
